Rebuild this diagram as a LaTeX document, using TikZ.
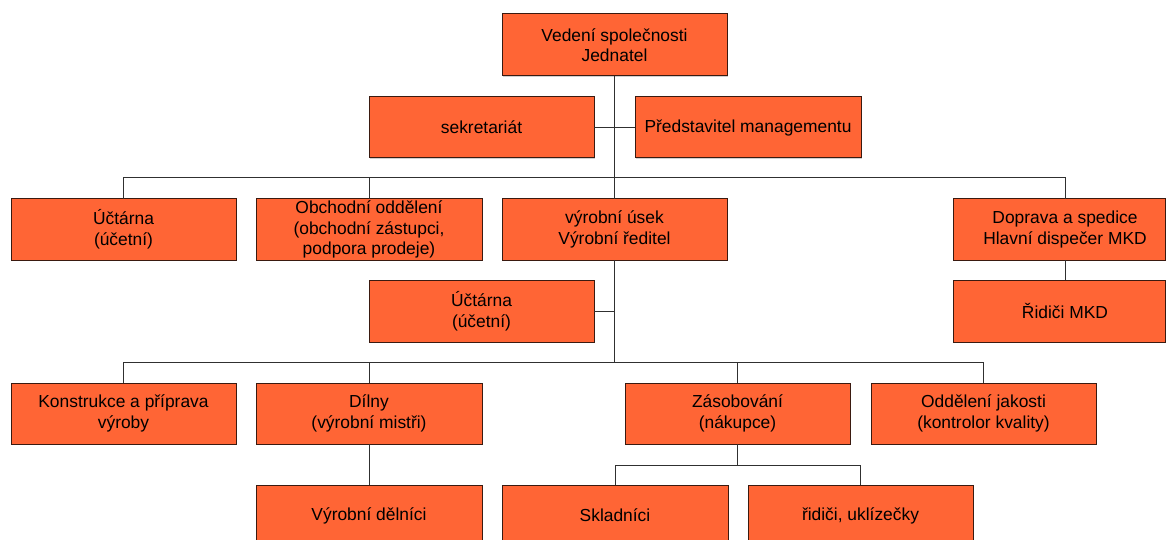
\documentclass[tikz,border=0pt]{standalone}
\usepackage{fontspec}
\setmainfont{Liberation Sans}
\usetikzlibrary{shadows}
\definecolor{boxfill}{HTML}{FF6535}
\definecolor{boxline}{HTML}{3A1A10}
\definecolor{wire}{HTML}{303030}
\begin{document}
\begin{tikzpicture}[x=1pt,y=-1pt,
  unit/.style={draw=boxline, line width=1pt, fill=boxfill, inner sep=0pt, outer sep=0pt,
    minimum width=225pt, minimum height=61pt, align=center,
    font=\fontsize{17.4}{20.6}\selectfont,
    drop shadow={shadow xshift=1.2pt, shadow yshift=-1.2pt, fill=black!30, opacity=0.6}},
  edgeunit/.style={unit, minimum width=212pt},
  edgetext/.style={label={[xshift=6pt, align=center, font=\fontsize{17.4}{20.6}\selectfont]center:#1}},
  link/.style={draw=wire, line width=1pt}]
\clip (0,0) rectangle (1167,540);
\fill[white] (0,0) rectangle (1167,540);

% management level
\node[unit, minimum height=62pt] (top)  at (614.5,45)   {Vedení společnosti\\Jednatel};
\node[unit] (sek)  at (481.5,127.5) {sekretariát};
\node[unit, minimum width=226pt] (pred) at (748,127.5)   {Představitel managementu};

% departments
\node[unit] (uct1) at (123.5,229.5) {Účtárna\\(účetní)};
\node[unit, minimum width=226pt] (obch) at (369,229.5)   {Obchodní oddělení\\(obchodní zástupci,\\podpora prodeje)};
\node[unit] (vyr)  at (614.5,229.5) {výrobní úsek\\Výrobní ředitel};
\node[edgeunit, edgetext={Doprava a spedice\\Hlavní dispečer MKD}] (dopr) at (1059,229.5) {};
\node[edgeunit, minimum height=62pt, edgetext={Řidiči MKD}] (rid) at (1059,311) {};

% production
\node[unit, minimum height=62pt] (uct2) at (481.5,311) {Účtárna\\(účetní)};
\node[unit] (kon)  at (123.5,413.5) {Konstrukce a příprava\\výroby};
\node[unit, minimum width=226pt] (dil)  at (369,413.5)   {Dílny\\(výrobní mistři)};
\node[unit] (zas)  at (737.5,413.5) {Zásobování\\(nákupce)};
\node[unit] (odd)  at (983.5,413.5) {Oddělení jakosti\\(kontrolor kvality)};

% workers
\node[unit, minimum width=226pt] (vd)  at (369,515.5)   {Výrobní dělníci};
\node[unit, minimum width=226pt] (skl) at (615,515.5)   {Skladníci};
\node[unit] (uk)  at (860.5,515.5) {řidiči, uklízečky};

% trunk from the top
\draw[link] (top.south) -- (vyr.north);
\draw[link] (sek.east) -- (sek.east -| top.south) -- (pred.west);

% department bus
\coordinate (dbus) at (0,178);
\coordinate (dtap) at ([xshift=6pt]dopr.north);
\draw[link] (uct1.north) -- (uct1.north |- dbus) -- (dtap |- dbus) -- (dtap);
\draw[link] (obch.north) -- (obch.north |- dbus);
\draw[link] ([xshift=6pt]dopr.south) -- ([xshift=6pt]rid.north);

% production bus
\coordinate (pbus) at (0,362);
\draw[link] (vyr.south) -- (vyr.south |- pbus);
\draw[link] (uct2.east) -- (uct2.east -| vyr.south);
\draw[link] (kon.north) -- (kon.north |- pbus) -- (odd.north |- pbus) -- (odd.north);
\draw[link] (dil.north) -- (dil.north |- pbus);
\draw[link] (zas.north) -- (zas.north |- pbus);
\draw[link] (dil.south) -- (vd.north);

% supply bus
\coordinate (sbus) at (0,465);
\draw[link] (zas.south) -- (zas.south |- sbus);
\draw[link] (skl.north) -- (skl.north |- sbus) -- (uk.north |- sbus) -- (uk.north);
\end{tikzpicture}
\end{document}
